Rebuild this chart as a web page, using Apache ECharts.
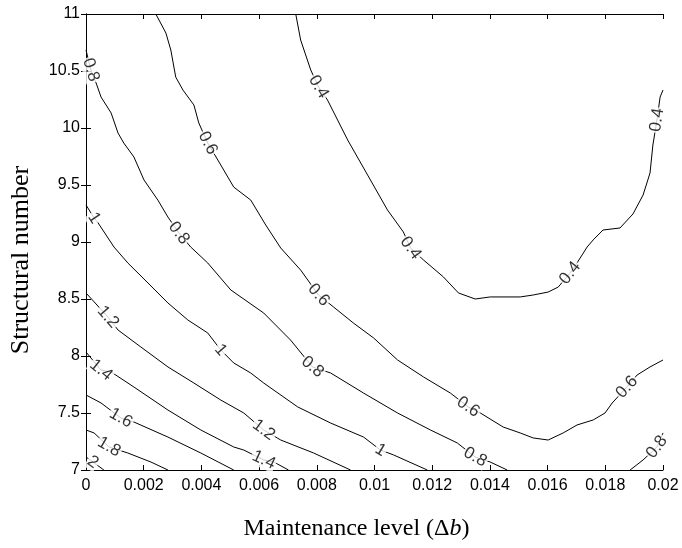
<!DOCTYPE html>
<html>
<head>
<meta charset="utf-8">
<script src="https://cdn.jsdelivr.net/npm/echarts@6/dist/echarts.min.js"></script>
<style>html,body{margin:0;padding:0;background:#fff}#c{width:682px;height:548px}</style>
</head>
<body>
<div id="c"></div>
<script>
// Contour levels and their traced paths: [Maintenance level Δb, Structural number]
const levels = [0.4, 0.6, 0.8, 0.8, 1, 1.2, 1.4, 1.6, 1.8, 2];
const c04 = [[0.00727,11.0],[0.00744,10.772],[0.00779,10.509],[0.00806,10.360],[0.00837,10.246],[0.00907,9.895],[0.00976,9.588],[0.01045,9.281],[0.01100,9.088],[0.01125,8.947],[0.01170,8.842],[0.01239,8.693],[0.01291,8.553],[0.01349,8.500],[0.01401,8.518],[0.01505,8.518],[0.01550,8.535],[0.01602,8.561],[0.01637,8.605],[0.01678,8.728],[0.01702,8.816],[0.01737,8.956],[0.01758,9.018],[0.01792,9.105],[0.01851,9.123],[0.01896,9.246],[0.01931,9.412],[0.01955,9.605],[0.01965,9.851],[0.01979,10.070],[0.01990,10.272],[0.02,10.333]];
const c06 = [[0.00242,11.0],[0.00277,10.833],[0.00294,10.684],[0.00311,10.447],[0.00336,10.333],[0.00374,10.202],[0.00391,10.044],[0.00422,9.868],[0.00457,9.719],[0.00512,9.482],[0.00571,9.368],[0.00623,9.149],[0.00675,8.947],[0.00744,8.754],[0.00806,8.535],[0.00858,8.430],[0.00927,8.289],[0.00997,8.158],[0.01080,7.965],[0.01170,7.816],[0.01263,7.675],[0.01325,7.553],[0.01367,7.500],[0.01446,7.377],[0.01505,7.325],[0.01550,7.281],[0.01602,7.263],[0.01654,7.325],[0.01702,7.395],[0.01758,7.439],[0.01799,7.500],[0.01824,7.588],[0.01875,7.728],[0.01910,7.833],[0.01955,7.904],[0.02,7.965]];
const c08 = [[0,10.684],[0.00017,10.509],[0.00035,10.395],[0.00052,10.272],[0.00087,10.132],[0.00111,9.956],[0.00131,9.868],[0.00166,9.746],[0.00201,9.544],[0.00249,9.368],[0.00284,9.219],[0.00322,9.079],[0.00363,8.956],[0.00422,8.816],[0.00502,8.579],[0.00616,8.377],[0.00709,8.140],[0.00785,7.904],[0.00848,7.851],[0.00962,7.675],[0.01080,7.500],[0.01194,7.351],[0.01287,7.237],[0.01349,7.114],[0.01401,7.070],[0.01460,7.0]];
const c08b = [[0.01886,7.0],[0.01931,7.088],[0.01979,7.202],[0.02,7.325]];
const c10 = [[0,9.325],[0.00028,9.211],[0.00042,9.167],[0.00097,8.956],[0.00145,8.816],[0.00215,8.640],[0.00284,8.465],[0.00353,8.316],[0.00422,8.202],[0.00467,8.053],[0.00512,7.939],[0.00571,7.851],[0.00616,7.763],[0.00734,7.553],[0.00848,7.412],[0.00962,7.289],[0.01021,7.175],[0.01066,7.132],[0.01183,7.0]];
const c12 = [[0,8.553],[0.00076,8.342],[0.00111,8.228],[0.00190,8.079],[0.00284,7.904],[0.00374,7.763],[0.00467,7.614],[0.00547,7.500],[0.00616,7.351],[0.00675,7.263],[0.00789,7.149],[0.00917,7.0]];
const c14 = [[0,8.035],[0.00052,7.877],[0.00087,7.860],[0.00166,7.728],[0.00284,7.526],[0.00398,7.351],[0.00512,7.202],[0.00547,7.175],[0.00616,7.088],[0.00651,7.070],[0.00702,7.0]];
const c16 = [[0,7.658],[0.00052,7.588],[0.00121,7.456],[0.00166,7.421],[0.00284,7.289],[0.00398,7.149],[0.00512,7.0]];
const c18 = [[0,7.351],[0.00028,7.325],[0.00080,7.202],[0.00145,7.149],[0.00225,7.070],[0.00284,7.0]];
const c20 = [[0,7.114],[0.00024,7.070],[0.00062,7.0]];
const paths = [c04, c06, c08, c08b, c10, c12, c14, c16, c18, c20];

// Contour labels: [x, y, text, angle]
const labelPts = [
  [0.00806,10.360,'0.4',-60],[0.01125,8.947,'0.4',-54],[0.01678,8.728,'0.4',52],[0.01979,10.070,'0.4',82],
  [0.00422,9.868,'0.6',-63],[0.00806,8.535,'0.6',-48],[0.01325,7.553,'0.6',-34],[0.01875,7.728,'0.6',48],
  [0.00017,10.509,'0.8',-73],[0.00322,9.079,'0.8',-53],[0.00785,7.904,'0.8',-40],[0.01349,7.114,'0.8',-30],[0.01979,7.202,'0.8',53],
  [0.00028,9.211,'1',-56],[0.00467,8.053,'1',-49],[0.01021,7.175,'1',-31],
  [0.00076,8.342,'1.2',-49],[0.00616,7.351,'1.2',-36],
  [0.00052,7.877,'1.4',-39],[0.00616,7.088,'1.4',-25],
  [0.00121,7.456,'1.6',-30],
  [0.00080,7.202,'1.8',-30],
  [0.00024,7.070,'2',-35]
];
const xTicks = [0,0.002,0.004,0.006,0.008,0.01,0.012,0.014,0.016,0.018,0.02];
const yTicks = [7,7.5,8,8.5,9,9.5,10,10.5,11];

const chart = echarts.init(document.getElementById('c'), null, {renderer:'canvas'});
const axisCommon = {
  axisLine:{show:true, lineStyle:{color:'#000', width:1}},
  axisTick:{show:true, inside:true, length:5, lineStyle:{color:'#000'}},
  splitLine:{show:false}
};
const series = paths.map((p,i)=>({
  type:'line', name:String(levels[i]), data:p, showSymbol:false, symbol:'none',
  lineStyle:{color:'#000', width:1}, smooth:false, silent:true, z:2, clip:true
}));
series.push({
  type:'scatter', symbolSize:0, z:5, silent:true,
  data: labelPts.map(l=>({value:[l[0],l[1]], name:l[2], label:{rotate:l[3]}})),
  label:{show:true, position:'inside', formatter:p=>p.name, color:'#000',
    fontFamily:'Liberation Sans, Arial', fontSize:17, backgroundColor:'#fff', padding:[0,1]}
});
chart.setOption({
  animation:false,
  backgroundColor:'#fff',
  grid:{left:85, right:19, top:14, bottom:78, containLabel:false},
  xAxis:[
    Object.assign({type:'value', min:0, max:0.02, interval:0.002, position:'bottom',
      axisLabel:{margin:8, color:'#000', fontSize:16, fontFamily:'Liberation Sans, Arial',
        formatter:v=>String(parseFloat(v.toFixed(4))), customValues:xTicks},
      name:'Maintenance level (Δ{i|b})', nameLocation:'middle', nameGap:47,
      nameTextStyle:{fontFamily:'Liberation Serif, Times New Roman', fontSize:24, color:'#000', padding:[0,36,0,0],
        rich:{i:{fontFamily:'Liberation Serif, Times New Roman', fontStyle:'italic', fontSize:24, color:'#000'}}}
    }, axisCommon),
    Object.assign({type:'value', min:0, max:0.02, interval:0.002, position:'top', axisLabel:{show:false}}, axisCommon)
  ],
  yAxis:[
    Object.assign({type:'value', min:7, max:11, interval:0.5, position:'left',
      axisLabel:{margin:6, color:'#000', fontSize:16, fontFamily:'Liberation Sans, Arial',
        formatter:v=>String(v), customValues:yTicks},
      name:'Structural number', nameLocation:'middle', nameGap:52,
      nameTextStyle:{fontFamily:'Liberation Serif, Times New Roman', fontSize:26, color:'#000', padding:[0,36,0,0]}
    }, axisCommon),
    Object.assign({type:'value', min:7, max:11, interval:0.5, position:'right', axisLabel:{show:false}}, axisCommon)
  ],
  series:series
});
</script>
</body>
</html>
